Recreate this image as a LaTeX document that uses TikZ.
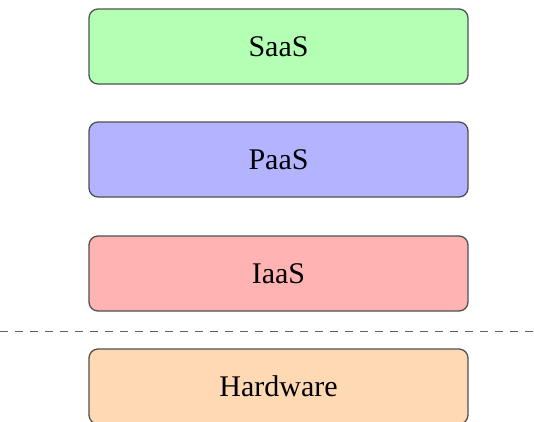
\documentclass[tikz,border=0pt]{standalone}
\usepackage{fontspec}
\setmainfont{Liberation Serif}
\definecolor{saasfill}{RGB}{179,255,179}
\definecolor{paasfill}{RGB}{179,179,255}
\definecolor{iaasfill}{RGB}{255,179,179}
\definecolor{hwfill}{RGB}{255,217,179}
\definecolor{edge}{RGB}{80,80,80}
\begin{document}
\begin{tikzpicture}[x=1pt,y=-1pt,
  layer/.style={draw=edge, line width=1.3pt, rounded corners=9pt,
    minimum width=379pt, minimum height=75pt, inner sep=0pt,
    font=\fontsize{30}{36}\selectfont, text=black},
  divider/.style={draw=edge!90, line width=1.4pt, dash pattern=on 8pt off 7pt}]
  \useasboundingbox (0,0) rectangle (534,421);
  \begin{scope}
    \clip (0,0) rectangle (534,421);
    \node[layer, fill=saasfill] (saas) at (278.5,46.5) {SaaS};
    \node[layer, fill=paasfill] (paas) at (278.5,159.5) {PaaS};
    \node[layer, fill=iaasfill] (iaas) at (278.5,273.5) {IaaS};
    \node[layer, fill=hwfill] (hw) at (278.5,386.5) {Hardware};
    \coordinate (divL) at (0,331.5);
    \coordinate (divR) at (534,331.5);
    \draw[divider] (divL) -- (divR);
  \end{scope}
\end{tikzpicture}
\end{document}
